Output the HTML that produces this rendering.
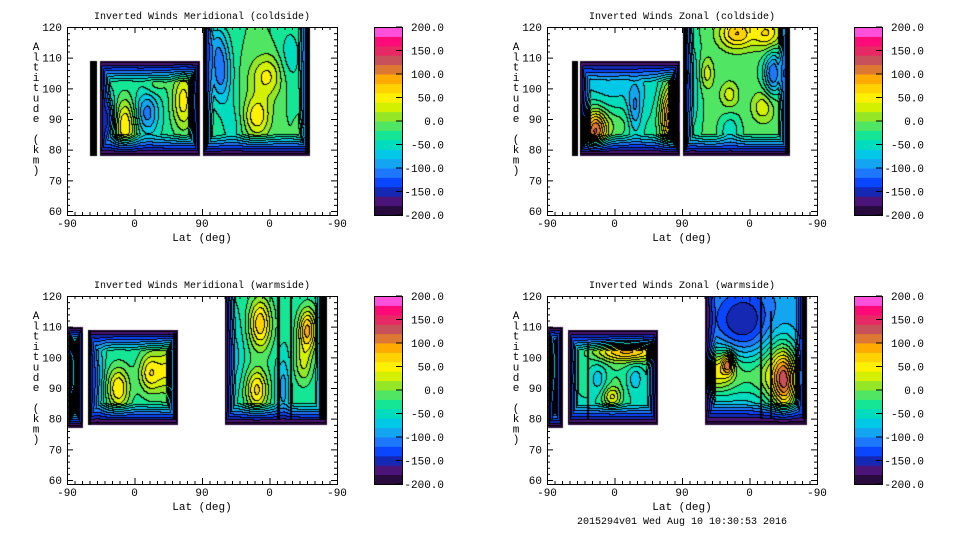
<!DOCTYPE html>
<html><head><meta charset="utf-8"><style>
html,body{margin:0;padding:0;background:#fff;width:960px;height:540px;overflow:hidden}
#wrap{position:relative;width:960px;height:540px}
canvas{position:absolute}
svg{position:absolute;left:0;top:0}
text{font-family:"Liberation Mono",monospace;fill:#000}
</style></head><body>
<div id="wrap">
<canvas id="c0" width="270" height="188" style="left:67px;top:27px"></canvas>
<canvas id="c1" width="270" height="188" style="left:547px;top:27px"></canvas>
<canvas id="c2" width="270" height="188" style="left:67px;top:296px"></canvas>
<canvas id="c3" width="270" height="188" style="left:547px;top:296px"></canvas>
<svg id="ov" width="960" height="540"></svg>
</div>
<script>
// colour levels, bottom (-200) to top (200)
const levelColors=["#280a3c","#4b1478","#1428b4","#0a46ff","#1e78ff","#14a5f0","#00c8e6","#00dcbe","#14e696","#50e664","#96e628","#d2f000","#fff000","#ffd200","#ffaa00","#dc7832","#c8505a","#e62864","#ff0a78","#ff50dc"];
const cbarLabels=["200.0","150.0","100.0","50.0","0.0","-50.0","-100.0","-150.0","-200.0"];
const cbarValues=[200,150,100,50,0,-50,-100,-150,-200];
const xTickLabels=["-90","0","90","0","-90"];
const yTickValues=[60,70,80,90,100,110,120];
const titles=["Inverted Winds Meridional (coldside)","Inverted Winds Zonal (coldside)","Inverted Winds Meridional (warmside)","Inverted Winds Zonal (warmside)"];
// regions: [u0,u1,altLow,altHigh,baseValue,clipTop]
const tlRegions=[[0.49,1.97,78,109,-35,0],[2.01,3.6,78,120,-20,1]];
const tlBlobs=[[0.86,88,60,0.1,5],[1.18,92,-110,0.1,4],[1.72,96,50,0.1,6],[0.62,90,-130,0.06,4],[1.3,101,-10,0.1,2],[2.27,105,-110,0.1,6],[2.81,91,55,0.12,4],[2.96,104,45,0.15,4],[3.5,86,10,0.05,2],[2.2,115,-60,0.1,4],[3.3,110,-55,0.1,6],[2.45,88,-50,0.1,5]];
const tlStripes=[[0.34,0.44,78,109],[2.01,2.07,80,120],[3.53,3.6,79,120]];
const trRegions=[[0.49,1.97,78,109,-40,0],[2.01,3.6,78,120,-15,1]];
const trBlobs=[[0.71,86,110,0.1,4],[1.85,91,120,0.1,6],[1.3,93,-100,0.06,5],[0.9,101,-70,0.3,4],[1.55,100,-50,0.1,6],[1.0,88,-10,0.2,3],[2.81,118,80,0.15,3],[3.26,118,60,0.12,3],[3.35,105,-120,0.08,4],[2.37,105,30,0.06,3],[2.7,98,30,0.08,2.5],[3.2,94,35,0.1,3],[2.71,86,-60,0.08,3],[2.12,100,-70,0.08,10]];
const trStripes=[[0.37,0.46,78,109],[2.01,2.08,80,120],[3.53,3.6,79,120]];
const blRegions=[[0.01,0.24,77,110,10,0],[0.31,1.64,78,109,-35,0],[2.34,3.85,78,120,-35,1]];
const blBlobs=[[0.03,95,60,0.06,6],[0.76,90,60,0.1,4],[1.23,95,55,0.1,4],[1.5,96,35,0.1,5],[0.45,93,-90,0.06,8],[2.86,111,75,0.1,5],[2.81,89.5,65,0.1,4],[3.56,109,85,0.08,4],[3.5,98,20,0.08,4],[3.2,90,-90,0.06,6],[2.45,100,-70,0.1,8]];
const blStripes=[[0.21,0.24,79,108],[0.31,0.36,78,109],[1.57,1.61,80,108],[3.11,3.16,80,120],[3.3,3.34,80,120],[3.74,3.85,80,120]];
const brRegions=[[0.01,0.24,77,110,-20,0],[0.31,1.64,78,109,-55,0],[2.34,3.85,78,120,-90,1]];
const brBlobs=[[0.03,97,30,0.06,6],[1.2,102,70,0.3,2],[1.0,93,-20,0.4,6],[0.76,93,-100,0.08,3],[1.3,93,-100,0.08,3],[0.96,87,20,0.08,2],[2.9,94,-20,0.5,5],[2.5,96,0,0.15,4],[2.68,98,20,0.05,2],[2.9,112,-160,0.25,6],[3.53,92,40,0.1,6],[3.0,86,-90,0.1,3],[3.4,95,-20,0.15,8]];
const brStripes=[[0.59,0.62,80,105],[3.15,3.18,80,120],[3.31,3.34,80,115],[3.78,3.85,80,120]];

const PW=270,PH=188,UX=67.5,KM=3.067,SG=1.2;
function xs(u){return u*UX;}
function ys(a){return (120-a)*KM;}
function hex(h){return [parseInt(h.substr(1,2),16),parseInt(h.substr(3,2),16),parseInt(h.substr(5,2),16)];}
const rgb=levelColors.map(hex);
function render(id,regions,blobs,stripes){
  const cv=document.getElementById(id),ctx=cv.getContext('2d');
  const img=ctx.createImageData(PW,PH),d=img.data;
  const lev=new Int16Array(PW*PH).fill(-1);
  const bl=blobs.map(b=>[xs(b[0]),ys(b[1]),b[2],b[3]*UX*SG,b[4]*KM*SG]);
  for(const r of regions){
    const x0=Math.round(xs(r[0])),x1=Math.round(xs(r[1])),y0=Math.round(ys(r[3])),y1=Math.round(ys(r[2]));
    for(let y=Math.max(0,y0);y<Math.min(PH,y1);y++)for(let x=Math.max(0,x0);x<Math.min(PW,x1);x++){
      let v=r[4];
      for(const b of bl){const dx=(x-b[0])/b[3],dy=(y-b[1])/b[4];v+=(b[2]-r[4])*Math.exp(-0.5*(dx*dx+dy*dy));}
      const ex=(Math.min(x-x0,x1-1-x)+1)/12,ey=(Math.min(r[5]?1e9:(y-y0),y1-1-y)+1)/22;
      let e=Math.max(0,Math.min(ex,ey,1));
      let val=-200+(v+200)*e;
      let k=Math.floor((val+200)/20);k=Math.max(0,Math.min(19,k));
      lev[y*PW+x]=k;
    }
  }
  for(const s of stripes){
    const x0=Math.round(xs(s[0])),x1=Math.round(xs(s[1])),y0=Math.round(ys(s[3])),y1=Math.round(ys(s[2]));
    for(let y=Math.max(0,y0);y<Math.min(PH,y1);y++)for(let x=x0;x<x1;x++)lev[y*PW+x]=-2;
  }
  for(let y=0;y<PH;y++)for(let x=0;x<PW;x++){
    const i=y*PW+x,k=lev[i],p=i*4;let c;
    if(k==-1)c=[255,255,255];else if(k==-2)c=[0,0,0];
    else{
      const kr=x<PW-1?lev[i+1]:k,kd=y<PH-1?lev[i+PW]:k;
      if((kr>=0&&kr!=k)||(kd>=0&&kd!=k))c=[0,0,0];else c=rgb[k];
    }
    d[p]=c[0];d[p+1]=c[1];d[p+2]=c[2];d[p+3]=255;
  }
  ctx.putImageData(img,0,0);
}
render('c0',tlRegions,tlBlobs,tlStripes);
render('c1',trRegions,trBlobs,trStripes);
render('c2',blRegions,blBlobs,blStripes);
render('c3',brRegions,brBlobs,brStripes);

const NS="http://www.w3.org/2000/svg",ov=document.getElementById('ov');
function el(t,a,parent){const e=document.createElementNS(NS,t);for(const k in a)e.setAttribute(k,a[k]);(parent||ov).appendChild(e);return e;}
function txt(s,x,y,size,anchor,g){const t=el('text',{x:x,y:y,'font-size':size,'text-anchor':anchor},g);t.textContent=s;return t;}
const panels=[[67,27],[547,27],[67,296],[547,296]];
panels.forEach((p,i)=>{
  const L=p[0],T=p[1];
  const g=el('g',{});
  
  
  const fr=el('rect',{x:L+0.5,y:T+0.5,width:PW,height:PH,fill:'none',stroke:'#000','stroke-width':1},g);
  
  
  let tks='';
  for(let a=60;a<=120;a+=2){const y=T+ys(a)+0.5,m=(a%10==0)?6:3;tks+=`M${L} ${y}h${m}M${L+PW} ${y}h${-m}`;}
  for(let u=0;u<=4.001;u+=10/90){const x=L+xs(u)+0.5,m=(Math.abs(u-Math.round(u))<0.01)?6:3;tks+=`M${x} ${T+PH}v${-m}M${x} ${T}v${m}`;}
  const tp=el('path',{d:tks,stroke:'#000','stroke-width':1,fill:'none'},g);
  
  
  yTickValues.forEach(a=>{const t=txt(String(a),L-5,T+ys(a)+4,11,'end',g);
    
    });
  xTickLabels.forEach((s,j)=>{const t=txt(s,L+xs(j),T+PH+12,11,'middle',g);
    
    });
  const xt=txt('Lat (deg)',L+135,T+PH+26,11,'middle',g);
  
  
  const tt=txt(titles[i],L+135,T-8,10,'middle',g);
  
  
  const yl="Altitude (km)";
  const yg=el('g',{},g);
  
  
  for(let c=0;c<yl.length;c++){txt(yl[c],L-31,T+23+c*10.3,11,'middle',yg);}
  const CX=L+307,CW=28;
  const cb=el('g',{},g);
  
  
  const bh=PH/levelColors.length;
  levelColors.forEach((c,k)=>{el('rect',{x:CX,y:T+PH-(k+1)*bh,width:CW,height:bh+0.5,fill:c},cb);});
  el('rect',{x:CX+0.5,y:T+0.5,width:CW,height:PH,fill:'none',stroke:'#000'},cb);
  cbarValues.forEach((v,k)=>{const y=T+(200-v)/400*PH;
    el('path',{d:`M${CX+CW-6} ${y}h6`,stroke:'#000'},cb);
    const t=txt(cbarLabels[k],CX+70,y+4,11,'end',cb);
    
    });
});
const ft=txt('2015294v01 Wed Aug 10 10:30:53 2016',682,524,10,'middle');


</script>
</body></html>
